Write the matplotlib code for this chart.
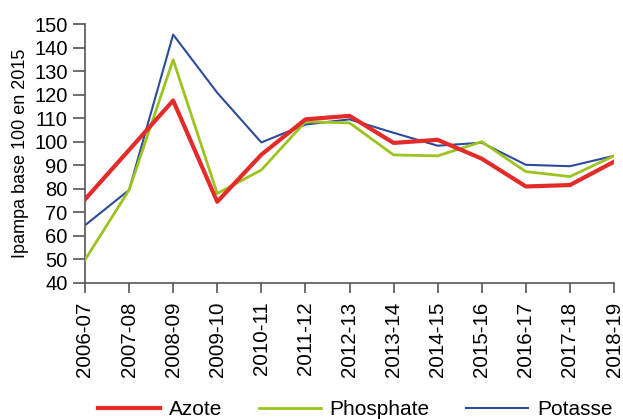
import numpy as np
import matplotlib.pyplot as plt

plt.rcParams['font.family'] = ['Liberation Sans', 'DejaVu Sans']

campagnes = ['2006-07', '2007-08', '2008-09', '2009-10', '2010-11', '2011-12', '2012-13',
             '2013-14', '2014-15', '2015-16', '2016-17', '2017-18', '2018-19']
azote = [75.5, 96.5, 117.5, 74.5, 94.5, 109.5, 111, 99.5, 100.8, 92.8, 81, 81.6, 91.5]
phosphate = [49.8, 79.5, 134.8, 78, 88, 108.5, 108, 94.4, 94, 100, 87.3, 85.2, 94]
potasse = [64.5, 79.5, 145.5, 120.8, 99.7, 107.3, 109.5, 103.8, 98.3, 99.6, 90.2, 89.6, 94]

def draw():
    fig = plt.figure(figsize=(6.23, 4.19), dpi=100)
    ax = fig.add_axes([0.1364, 0.3246, 0.8492, 0.6181])
    x = np.arange(len(campagnes))

    # ordre de dessin : potasse dessous, azote dessus
    ax.plot(x, potasse, color='#2b4c9b', lw=1.5, label='Potasse', zorder=2)
    ax.plot(x, phosphate, color='#9cc31e', lw=2.0, label='Phosphate', zorder=3)
    ax.plot(x, azote, color='#e52a2a', lw=3.0, label='Azote', zorder=4)

    ax.set_xlim(0, 12)
    ax.set_ylim(40, 150)
    ax.set_yticks(range(40, 151, 10))
    ax.set_xticks(x)
    ax.set_xticklabels(campagnes, rotation=90)
    ax.set_ylabel('Ipampa base 100 en 2015', fontsize=13)
    ax.yaxis.set_label_coords(-0.105, 0.5)

    for s in ['top', 'right']:
        ax.spines[s].set_visible(False)
    for s in ['left', 'bottom']:
        ax.spines[s].set_color('#555555')
        ax.spines[s].set_linewidth(1.2)
    ax.tick_params(axis='y', direction='out', length=9, width=1.2, color='#555555',
                   labelsize=14.5, pad=3.5)
    ax.tick_params(axis='x', direction='out', length=7.5, width=1.2, color='#555555',
                   labelsize=14.8, pad=6)

    handles, labels = ax.get_legend_handles_labels()
    order = [2, 1, 0]
    fig.legend([handles[i] for i in order], [labels[i] for i in order],
               loc='lower center', bbox_to_anchor=(0.57, -0.045), ncol=3,
               frameon=False, fontsize=15, handlelength=3.0, columnspacing=1.75,
               handletextpad=0.4)

    fig.savefig('out.png', dpi=100)

if __name__ == "__main__":
    draw()
